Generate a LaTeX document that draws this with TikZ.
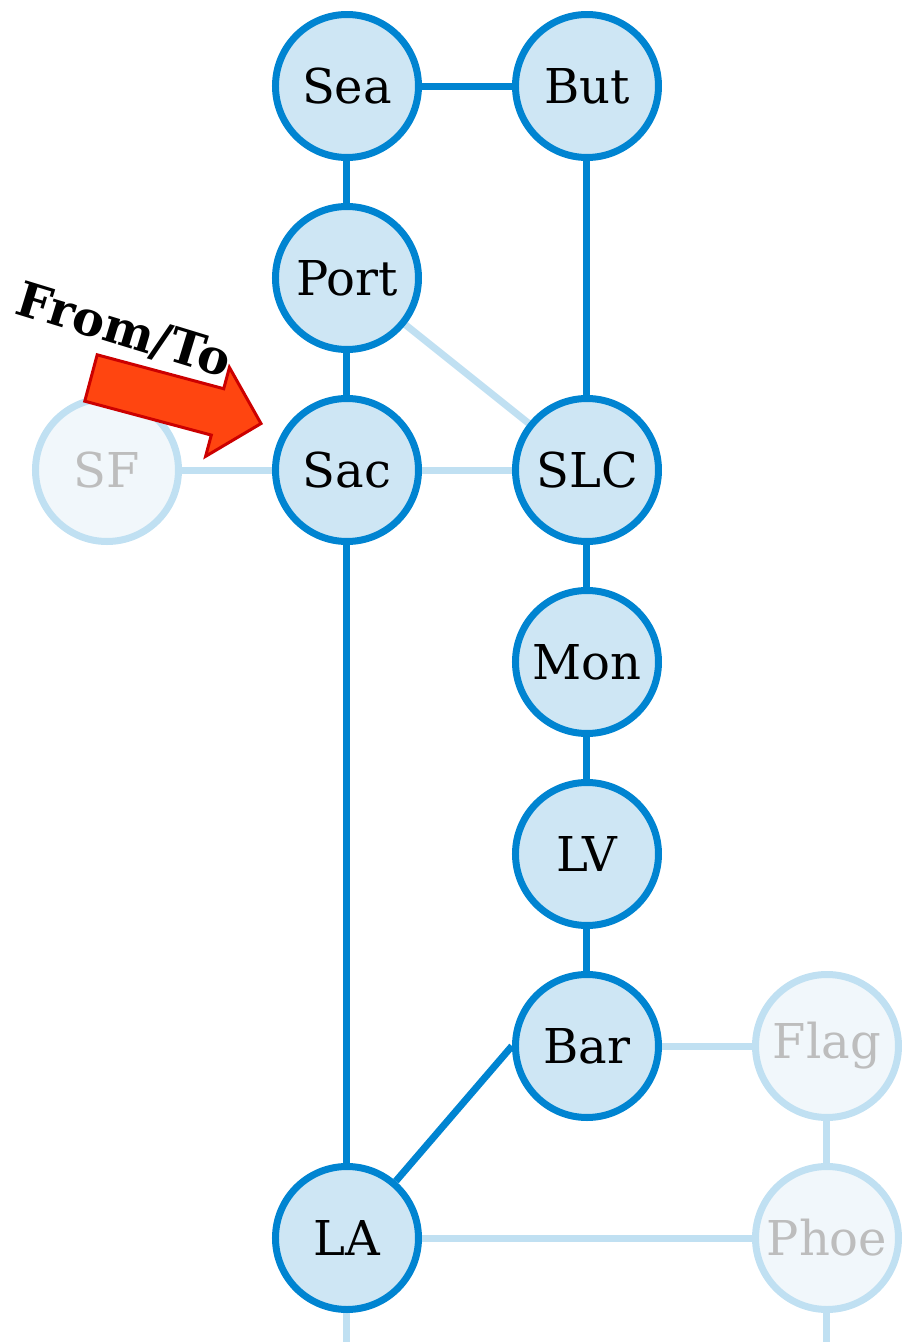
\documentclass[tikz,border=0pt]{standalone}
\usepackage{fontspec}
\setmainfont{DejaVu Serif}
\usetikzlibrary{backgrounds}
\definecolor{routeblue}{HTML}{0084D1}
\definecolor{routefill}{HTML}{CEE6F4}
\definecolor{fadeline}{HTML}{C0E0F2}
\definecolor{fadefill}{HTML}{F1F7FB}
\definecolor{fadetext}{HTML}{BDBDBD}
\definecolor{arrowfill}{HTML}{FF4510}
\definecolor{arrowline}{HTML}{CC0000}

\begin{document}
\begin{tikzpicture}[x=120pt, y=-96pt,
    city/.style={circle, draw=routeblue, fill=routefill, line width=3.5pt,
        minimum size=71.5pt, inner sep=0pt, font=\fontsize{24}{29}\selectfont},
    faded/.style={city, draw=fadeline, fill=fadefill, text=fadetext},
    road/.style={routeblue, line width=3.5pt},
    spare/.style={fadeline, line width=3.5pt}]
    \useasboundingbox (-0.4458,-0.4479) rectangle (3.3125,6.5417);
    % Cities on the route
    \foreach \n/\c/\r in {Sea/1/0, But/2/0, Port/1/1, Sac/1/2, SLC/2/2,
        Mon/2/3, LV/2/4, Bar/2/5, LA/1/6} {
        \node[city] (\n) at (\c,\r) {\n};
    }
    % Other cities
    \foreach \n/\c/\r in {SF/0/2, Flag/3/5, Phoe/3/6} {
        \node[faded] (\n) at (\c,\r) {\n};
    }
    \coordinate (LAout) at (1,6.5417);
    \coordinate (Phoeout) at (3,6.5417);
    \begin{scope}[on background layer]
        \foreach \a/\b in {Sea/But, Sea/Port, Port/Sac, Sac/LA, But/SLC,
            SLC/Mon, Mon/LV, LV/Bar} {
            \draw[road] (\a) -- (\b);
        }
        \draw[road] (LA) -- (Bar.west);
        \foreach \a/\b in {Port/SLC, SF/Sac, Sac/SLC, Bar/Flag, Flag/Phoe,
            LA/Phoe, LA/LAout, Phoe/Phoeout} {
            \draw[spare] (\a) -- (\b);
        }
    \end{scope}
    % Start marker
    \node[rotate=-17, font=\bfseries\fontsize{24}{29}\selectfont] (fromto)
        at (0.0708,1.275) {From/To};
    \coordinate (arrowtail) at (-0.0667,1.5208);
    \begin{scope}[shift={(arrowtail)}, x=0.5pt, y=0.5pt, rotate=-15]
        \draw[arrowline, fill=arrowfill, line width=1.5pt]
            (0,24) -- (131,24) -- (131,46) -- (176,0) -- (131,-46)
            -- (131,-24) -- (0,-24) -- cycle;
    \end{scope}
\end{tikzpicture}
\end{document}
